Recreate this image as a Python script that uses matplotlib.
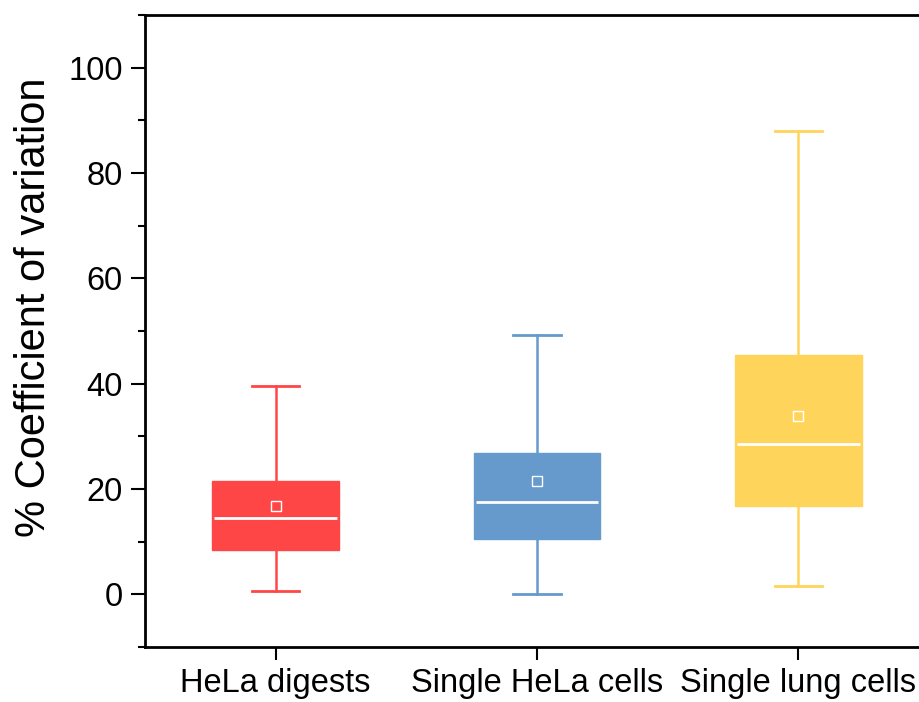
import matplotlib.pyplot as plt
from matplotlib.ticker import MultipleLocator

plt.rcParams["font.family"] = ["Liberation Sans", "DejaVu Sans"]

CATEGORIES = ["HeLa digests", "Single HeLa cells", "Single lung cells"]
WHISKER_LOW = [0.6, 0.0, 1.5]
Q1 = [8.5, 10.6, 16.7]
MEDIAN = [14.4, 17.5, 28.5]
MEAN = [16.7, 21.6, 33.8]
Q3 = [21.6, 26.8, 45.5]
WHISKER_HIGH = [39.5, 49.3, 87.9]

COLORS = [
    "#FF4646",  # red
    "#6699CC",  # blue
    "#FFD45A",  # yellow
]


def build_stats():
    stats = []
    for i, name in enumerate(CATEGORIES):
        stats.append({
            "label": name,
            "whislo": WHISKER_LOW[i],
            "q1": Q1[i],
            "med": MEDIAN[i],
            "mean": MEAN[i],
            "q3": Q3[i],
            "whishi": WHISKER_HIGH[i],
            "fliers": [],
        })
    return stats


def main():
    fig = plt.figure(figsize=(9.19, 7.02), dpi=100)
    # axes runs off the right edge like the reference crop
    ax = fig.add_axes([145 / 919, 55 / 702, 784 / 919, 632 / 702])

    stats = build_stats()
    positions = list(range(1, len(CATEGORIES) + 1))
    bp = ax.bxp(stats, positions=positions, widths=0.485, patch_artist=True,
                showmeans=True, showfliers=False)

    for i, color in enumerate(COLORS):
        bp["boxes"][i].set_facecolor(color)
        bp["boxes"][i].set_edgecolor(color)
        bp["boxes"][i].set_linewidth(1)
        bp["medians"][i].set_color("white")
        bp["medians"][i].set_linewidth(2)
        bp["medians"][i].set_xdata([i + 1 - 0.235, i + 1 + 0.235])
        for w in bp["whiskers"][2 * i:2 * i + 2]:
            w.set_color(color)
            w.set_linewidth(1.8)
        for c in bp["caps"][2 * i:2 * i + 2]:
            c.set_color(color)
            c.set_linewidth(2)
            c.set_xdata([i + 1 - 0.09, i + 1 + 0.09])
        m = bp["means"][i]
        m.set_marker("s")
        m.set_markerfacecolor("none")
        m.set_markeredgecolor("white")
        m.set_markersize(7)
        m.set_markeredgewidth(1)

    ax.set_xlim(0.5, 3.5)
    ax.set_ylim(-10, 110)
    ax.set_xticks(positions)
    ax.set_xticklabels(CATEGORIES, fontsize=23.5)
    ax.yaxis.set_major_locator(MultipleLocator(20))
    ax.yaxis.set_minor_locator(MultipleLocator(10))
    ax.tick_params(axis="y", which="major", labelsize=23.5, length=10, width=1.5,
                   direction="out", pad=6)
    ax.tick_params(axis="y", which="minor", length=5, width=1.5, direction="out")
    ax.tick_params(axis="x", length=9, width=1.5, direction="out", pad=6)
    ax.set_ylabel("% Coefficient of variation", fontsize=30, labelpad=10)
    ax.yaxis.label.set_y(0.538)

    ax.spines["right"].set_visible(False)
    for side in ["left", "top", "bottom"]:
        ax.spines[side].set_linewidth(2)

    fig.savefig("out.png", dpi=100)


if __name__ == "__main__":
    main()
